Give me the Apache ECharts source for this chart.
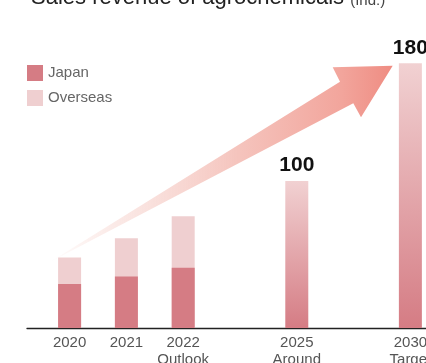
<!DOCTYPE html>
<html>
<head>
<meta charset="utf-8">
<script src="https://cdn.jsdelivr.net/npm/echarts@6/dist/echarts.min.js"></script>
<style>html,body{margin:0;padding:0;background:#fff;}#c{width:426px;height:363px;}</style>
</head>
<body>
<div id="c"></div>
<script>
var categories = ['2020', '2021', '2022\nOutlook', '', '2025\nAround', '', '2030\nTarget'];
var japan = [30, 35, 41, null, null, null, null];
var overseas = [18, 26, 35, null, null, null, null];
var targets = [null, null, null, null, 100, null, 180];
var titleText = 'Sales revenue of agrochemicals';
var titleUnit = '(Ind.)';

function pairs(arr) {
  var out = [];
  arr.forEach(function (v, i) { if (v !== null) out.push([i, v]); });
  return out;
}
// Overseas sits on top of Japan: draw its bar up to the cumulative total, behind Japan
var overseasTop = overseas.map(function (v, i) { return v === null ? null : v + japan[i]; });
var labelIdx = [];
categories.forEach(function (c, i) { if (c) labelIdx.push(i); });

var FONT = '"Liberation Sans", Arial, Helvetica, sans-serif';
var chart = echarts.init(document.getElementById('c'));
var gradBar = new echarts.graphic.LinearGradient(0, 0, 0, 1, [
  {offset: 0, color: '#f1d1d2'},
  {offset: 1, color: '#d57c84'}
]);
chart.setOption({
  animation: false,
  textStyle: {fontFamily: FONT},
  title: {
    text: '{m|' + titleText + '} {s|' + titleUnit + '}',
    left: 31, top: -15, padding: 0,
    textStyle: {fontSize: 22, fontWeight: 'normal', color: '#222', fontFamily: FONT,
      rich: {
        m: {fontSize: 22, lineHeight: 24, color: '#222', fontFamily: FONT, verticalAlign: 'bottom'},
        s: {fontSize: 15, lineHeight: 24, color: '#444', fontFamily: FONT, verticalAlign: 'bottom', padding: [0, 0, 1, 0]}
      }}
  },
  legend: {
    orient: 'vertical', left: 27, top: 65, padding: 0,
    itemWidth: 16, itemHeight: 16, itemGap: 9,
    icon: 'rect',
    data: ['Japan', 'Overseas'],
    textStyle: {color: '#666', fontSize: 15, fontFamily: FONT}
  },
  grid: {left: 27, right: 0, top: 63.3, bottom: 35, containLabel: false, outerBoundsMode: 'none'},
  xAxis: {
    type: 'value', min: -0.75, max: 6.275,
    axisLine: {show: true, onZero: false, lineStyle: {color: '#222', width: 1.3}},
    axisTick: {show: false},
    splitLine: {show: false},
    axisLabel: {
      customValues: labelIdx,
      formatter: function (v) { return categories[Math.round(v)] || ''; },
      color: '#555', fontSize: 15, lineHeight: 17, margin: 6, fontFamily: FONT,
      hideOverlap: false
    }
  },
  yAxis: {type: 'value', min: 0, max: 180, show: false, splitLine: {show: false}},
  series: [
    {name: 'Overseas', type: 'bar', barWidth: 23, barGap: '-100%', data: pairs(overseasTop),
     itemStyle: {color: '#efcfd0'}},
    {name: 'Japan', type: 'bar', barWidth: 23, barGap: '-100%', data: pairs(japan),
     itemStyle: {color: '#d57c84'}},
    {name: 'Target', type: 'bar', barWidth: 23, barGap: '-100%', data: pairs(targets),
     itemStyle: {color: gradBar},
     label: {show: true, position: 'top', distance: 5, color: '#111', fontSize: 21,
       fontWeight: 'bold', fontFamily: FONT,
       formatter: function (p) { return p.value[1]; }}}
  ],
  graphic: [{
    type: 'polygon', z: 1,
    shape: {points: [[50, 262], [340, 81.7], [332.7, 67.3], [392.7, 65.7], [361, 117.3], [353.3, 103.3]]},
    style: {fill: new echarts.graphic.LinearGradient(0, 0, 1, 0, [
      {offset: 0, color: 'rgba(248,215,210,0)'},
      {offset: 0.25, color: 'rgba(249,224,220,0.85)'},
      {offset: 0.55, color: '#f5c4bd'},
      {offset: 0.85, color: '#f2a59c'},
      {offset: 1, color: '#ef8c82'}
    ])}
  }]
});
</script>
</body>
</html>
